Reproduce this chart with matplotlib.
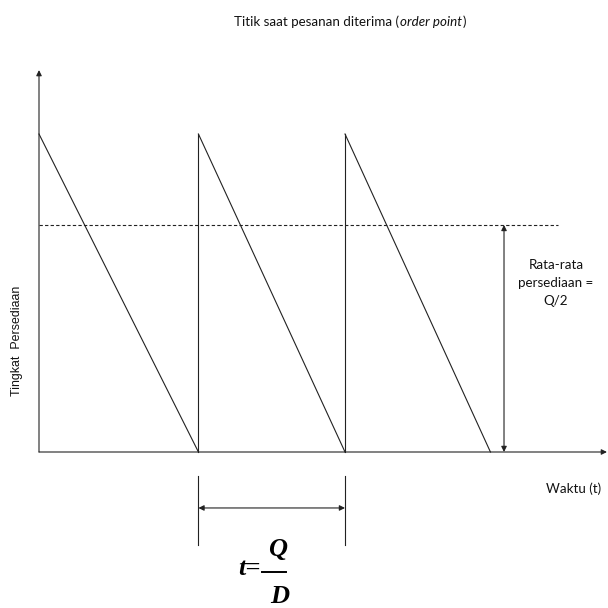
#!/usr/bin/env python3

import matplotlib
matplotlib.use('Agg')
import matplotlib.pyplot as plt

# sawtooth data: time in units of one cycle (Q/D), stock level in units of Q
cycle_start = [0.0, 1.092, 2.096]
cycle_end = [1.092, 2.096, 3.092]
Q = 1.0
avg_level = 0.714

# axis extents and annotation positions (data units)
t_axis_end = 3.89
level_axis_end = 1.201
avg_line_end = 3.555
avg_arrow_t = 3.185
interval_top = -0.075
interval_bottom = -0.292
interval_arrow = -0.176

fig = plt.figure(figsize=(6.08, 6.08), dpi=100)
ax = fig.add_axes([0, 0, 1, 1])
ax.set_xlim(-39 / 146, (608 - 39) / 146)
ax.set_ylim(-156 / 318, 452 / 318)
ax.axis('off')

ink = '#222222'
lw = 0.8
arrow = dict(color=ink, lw=lw, mutation_scale=8, shrinkA=0, shrinkB=0)

# sawtooth: falling line each cycle, vertical jump at the order point
for i in range(len(cycle_start)):
    ax.plot([cycle_start[i], cycle_end[i]], [Q, 0], color=ink, lw=lw)
    if i > 0:
        ax.plot([cycle_start[i], cycle_start[i]], [0, Q], color=ink, lw=lw)

# axes with arrow heads
ax.annotate('', xy=(t_axis_end, 0), xytext=(0, 0),
            arrowprops=dict(arrowstyle='-|>', **arrow))
ax.annotate('', xy=(0, level_axis_end), xytext=(0, 0),
            arrowprops=dict(arrowstyle='-|>', **arrow))

# average stock level
ax.plot([0, avg_line_end], [avg_level, avg_level], color=ink, lw=lw,
        dashes=(3, 2))
ax.annotate('', xy=(avg_arrow_t, avg_level), xytext=(avg_arrow_t, 0),
            arrowprops=dict(arrowstyle='<|-|>', **arrow))

# cycle length marker under the time axis
for t in cycle_start[1:]:
    ax.plot([t, t], [interval_top, interval_bottom], color=ink, lw=lw)
ax.annotate('', xy=(cycle_start[2], interval_arrow),
            xytext=(cycle_start[1], interval_arrow),
            arrowprops=dict(arrowstyle='<|-|>', **arrow))


# texts, placed in figure pixels from the top-left corner
def fx(px):
    return px / 608


def fy(py):
    return 1 - py / 608


sans = ['Lato', 'DejaVu Sans']
fs = 9.6
txt = '#111111'

# title made of plain + italic pieces
fig.canvas.draw()
r = fig.canvas.get_renderer()
x = fx(234)
for piece, style in [('Titik saat pesanan diterima (', 'normal'),
                     ('order point', 'italic'), (')', 'normal')]:
    t = fig.text(x, fy(22), piece, fontsize=fs, family=sans, style=style,
                 ha='left', va='center', color=txt)
    x = t.get_window_extent(r).x1 / fig.bbox.width + 0.001

fig.text(fx(17), fy(341), 'Tingkat  Persediaan', fontsize=8.9,
         family=['Liberation Sans', 'DejaVu Sans'], rotation=90,
         ha='center', va='center', color=txt)

fig.text(fx(556), fy(283), 'Rata-rata\npersediaan =\nQ/2', fontsize=fs,
         family=sans, ha='center', va='center', linespacing=1.6,
         color=txt)
fig.text(fx(574), fy(489), 'Waktu (t)', fontsize=fs, family=sans,
         ha='center', va='center', color=txt)

# t = Q / D formula
serif = ['Liberation Serif', 'DejaVu Serif']
fig.text(fx(238), fy(575), 't=', fontsize=19, family=serif,
         weight='bold', style='italic', ha='left', va='baseline')
fig.text(fx(278), fy(556), 'Q', fontsize=19, family=serif,
         weight='bold', style='italic', ha='center', va='baseline')
fig.text(fx(280), fy(603), 'D', fontsize=19, family=serif,
         weight='bold', style='italic', ha='center', va='baseline')
fig.add_artist(plt.Line2D([fx(262), fx(286)], [fy(572), fy(572)],
                          color='black', lw=1.4))

fig.savefig('out.png', dpi=100, facecolor='white')
